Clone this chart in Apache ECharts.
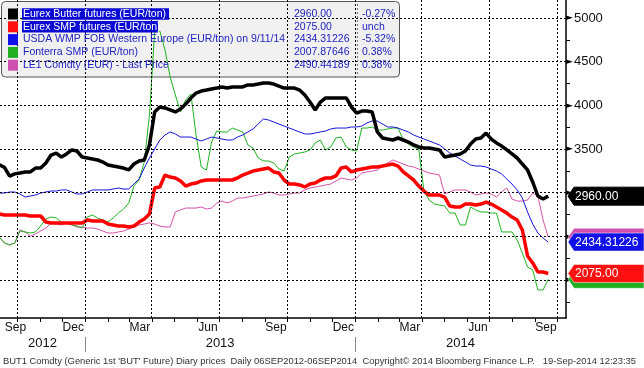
<!DOCTYPE html>
<html><head><meta charset="utf-8">
<script src="https://cdn.jsdelivr.net/npm/echarts@6/dist/echarts.min.js"></script>
<style>html,body{margin:0;padding:0;background:#fff}#c{width:644px;height:368px}</style>
</head><body><div id="c"></div>
<script>
const dates = ['2012-09-07','2012-09-14','2012-09-21','2012-09-28','2012-10-05','2012-10-12','2012-10-19','2012-10-26','2012-11-02','2012-11-09','2012-11-16','2012-11-23','2012-11-30','2012-12-07','2012-12-14','2012-12-21','2012-12-28',
'2013-01-04','2013-01-11','2013-01-18','2013-01-25','2013-02-01','2013-02-08','2013-02-15','2013-02-22','2013-03-01','2013-03-08','2013-03-15','2013-03-22','2013-03-29','2013-04-05','2013-04-12','2013-04-19','2013-04-26','2013-05-03','2013-05-10','2013-05-17','2013-05-24','2013-05-31','2013-06-07','2013-06-14','2013-06-21','2013-06-28','2013-07-05','2013-07-12','2013-07-19','2013-07-26','2013-08-02','2013-08-09','2013-08-16','2013-08-23','2013-08-30','2013-09-06','2013-09-13','2013-09-20','2013-09-27','2013-10-04','2013-10-11','2013-10-18','2013-10-25','2013-11-01','2013-11-08','2013-11-15','2013-11-22','2013-11-29','2013-12-06','2013-12-13','2013-12-20','2013-12-27',
'2014-01-03','2014-01-10','2014-01-17','2014-01-24','2014-01-31','2014-02-07','2014-02-14','2014-02-21','2014-02-28','2014-03-07','2014-03-14','2014-03-21','2014-03-28','2014-04-04','2014-04-11','2014-04-18','2014-04-25','2014-05-02','2014-05-09','2014-05-16','2014-05-23','2014-05-30','2014-06-06','2014-06-13','2014-06-20','2014-06-27','2014-07-04','2014-07-11','2014-07-18','2014-07-25','2014-08-01','2014-08-08','2014-08-15','2014-08-22','2014-08-29','2014-09-05','2014-09-12','2014-09-19'];

const butter = [3320,3290,3190,3215,3225,3237,3237,3282,3282,3340,3431,3454,3408,3443,3489,3477,3408,3397,3385,3374,3351,3317,3305,3294,3282,3260,3328,3363,3374,3546,
3924,3981,3970,3947,3924,3958,4015,4084,4141,4164,4175,4187,4198,4210,4198,4210,4210,4210,4233,4233,4244,4256,4256,4244,4221,4198,4198,4198,4175,4118,
4038,3947,4038,4084,4084,4084,4084,4084,3981,3912,3935,3935,3924,3695,3626,3614,3603,3626,3603,3580,3546,3523,3511,3511,3500,3489,3408,3420,3431,3443,
3477,3557,3614,3626,3683,3614,3569,3534,3489,3443,3397,3328,3260,3122,2962,2928,2960];

const smp = [2756,2744,2744,2744,2744,2744,2733,2733,2733,2664,2653,2653,2653,2653,2653,2653,2653,2687,2676,2676,2676,2641,2630,2618,2618,2607,2618,2664,2698,2756,
3053,3065,3202,3179,3168,3134,3076,3099,3110,3134,3145,3145,3145,3145,3145,3145,3168,3202,3225,3248,3259,3271,3282,3237,3225,3145,3099,3099,3088,3065,
3099,3110,3145,3168,3168,3191,3282,3294,3237,3259,3271,3282,3294,3294,3305,3317,3328,3305,3237,3191,3145,3076,3019,2973,2973,2973,2950,2847,2836,2836,
2870,2870,2859,2870,2893,2870,2836,2802,2767,2721,2687,2573,2275,2195,2092,2092,2075];

const usda = [2996,2996,3008,3008,2985,2950,2962,2973,2996,3008,3019,3019,3031,3031,3008,2985,2985,3008,3031,3031,3031,3031,3042,3053,3042,3042,3099,3156,3282,3397,
3500,3603,3660,3695,3672,3637,3637,3637,3614,3592,3614,3637,3626,3614,3603,3603,3637,3660,3695,3729,3786,3843,3832,3809,3786,3763,3740,3717,3695,3672,
3672,3683,3695,3706,3729,3740,3740,3740,3752,3752,3763,3798,3821,3821,3786,3752,3752,3740,3717,3695,3660,3637,3614,3592,3569,3546,3500,3454,3420,3386,
3351,3317,3305,3305,3294,3271,3248,3214,3156,3099,3031,2939,2779,2641,2538,2481,2434.31226];

const fonterra = [2492,2424,2401,2424,2561,2550,2538,2550,2618,2698,2721,2710,2664,2653,2630,2618,2595,2721,2744,2710,2687,2664,2710,2767,2813,2882,3076,3145,3351,3889,
4840,4851,4634,4324,4118,3924,4061,4130,3660,3294,3259,3580,3706,3695,3695,3740,3717,3695,3546,3511,3397,3363,3363,3340,3271,3248,3408,3443,3454,3466,
3489,3569,3603,3489,3523,3626,3637,3523,3489,3477,3740,3740,3752,3717,3717,3729,3740,3740,3603,3557,3523,3500,3019,2916,2870,2859,2847,2767,2767,2630,
2630,2836,2802,2779,2779,2767,2767,2550,2550,2550,2458,2309,2149,2115,1886,1886,2007.87646];

const le1 = [2492,2424,2401,2424,2573,2550,2504,2527,2561,2595,2653,2641,2630,2653,2630,2607,2607,2595,2595,2584,2561,2538,2538,2550,2561,2584,2607,2630,2641,2653,
2641,2618,2607,2607,2779,2802,2824,2824,2824,2836,2813,2824,2882,2904,2882,2904,2939,2939,2950,2962,2973,2985,3008,2996,2973,2973,2985,2996,2996,3031,
3053,3065,3076,3088,3099,3134,3168,3156,3145,3168,3225,3237,3248,3259,3305,3340,3374,3351,3328,3305,3294,3271,3248,3225,3214,3202,2985,3008,3031,3031,
3031,3008,2973,2985,2996,2985,2950,3008,3053,2927,2904,2904,2916,2996,2962,2687,2490.44189];

const seriesNames = ['Eurex Butter futures (EUR/ton)','Eurex SMP futures (EUR/ton)','USDA WMP FOB Western Europe (EUR/ton) on 9/11/14','Fonterra SMP (EUR/ton)','LE1 Comdty (EUR) - Last Price'];
const lastValues = ['2960.00','2075.00','2434.31226','2007.87646','2490.44189'];
const changes = ['-0.27%','unch','-5.32%','0.38%','0.38%'];
const tagValues = [2960, 2075, 2434.31226, 2007.87646, 2490.44189];
const tagLabels = ['2960.00','2075.00','2434.31226','',''];

const yTicks = [2000,2500,3000,3500,4000,4500,5000];
const yMinorTicks = [1750,2000,2250,2500,2750,3000,3250,3500,3750,4000,4250,4500,4750,5000];
const monthStarts = ['2012-10-01','2012-11-01','2012-12-01','2013-01-01','2013-02-01','2013-03-01','2013-04-01','2013-05-01','2013-06-01','2013-07-01','2013-08-01','2013-09-01','2013-10-01','2013-11-01','2013-12-01','2014-01-01','2014-02-01','2014-03-01','2014-04-01','2014-05-01','2014-06-01','2014-07-01','2014-08-01','2014-09-01','2014-10-01'];
const quarterStarts = ['2012-10-01','2013-01-01','2013-04-01','2013-07-01','2013-10-01','2014-01-01','2014-04-01','2014-07-01','2014-10-01'];
const monthLabelDates = ['2012-09-16','2012-12-16','2013-03-16','2013-06-16','2013-09-16','2013-12-16','2014-03-16','2014-06-16','2014-09-16'];
const monthLabelTexts = ['Sep','Dec','Mar','Jun','Sep','Dec','Mar','Jun','Sep'];
const yearSpans = [['2012-09-08','2013-01-01'],['2013-01-01','2014-01-01'],['2014-01-01','2014-10-13']];
const yearTexts = ['2012','2013','2014'];
const yearBreaks = ['2013-01-01','2014-01-01'];
const X_MIN = '2012-09-08', X_MAX = '2014-10-13';
const Y_MIN = 1565, Y_MAX = 5206;
const footer = "BUT1 Comdty (Generic 1st 'BUT' Future) Diary prices  Daily 06SEP2012-06SEP2014  Copyright\u00a9 2014 Bloomberg Finance L.P.   19-Sep-2014 12:23:35";

const toTs = s => { const p = s.split('-').map(Number); return new Date(p[0], p[1]-1, p[2]).getTime(); };
const FONT = '"Liberation Sans", Arial, sans-serif';
const lineColors = ['#000000','#ff0000','#1414d8','#1fb21f','#d452a8'];
const tagFill = ['#000000','#ff1010','#1010e8','#22b022','#d050b0'];

const chart = echarts.init(document.getElementById('c'));
const mk = arr => dates.map((d,i) => [d, arr[i]]);

const legendEls = [];
legendEls.push({type:'rect', z:0, shape:{x:1.5,y:1.5,width:398,height:75.5,r:4}, style:{fill:'#f0f0f0', stroke:'#555', lineWidth:1}});
const rowY = [14, 26.8, 39.6, 52.4, 65.2];
const hlW = [147, 136];
const LFONT = '10.5px ' + FONT;
seriesNames.forEach((n,i) => {
  legendEls.push({type:'rect', z:9, shape:{x:8,y:rowY[i]-5.5,width:10,height:11}, style:{fill:tagFill[i]}});
  if (i < 2) legendEls.push({type:'rect', z:9, shape:{x:22,y:rowY[i]-5.8,width:hlW[i],height:11.6}, style:{fill:'#0a0ad2'}});
  legendEls.push({type:'text', z:10, x:23, y:rowY[i], style:{text:n, fill: i<2 ? '#ffffff' : '#2222c0', font:LFONT, verticalAlign:'middle', textVerticalAlign:'middle'}});
  legendEls.push({type:'text', z:10, x:294, y:rowY[i], style:{text:lastValues[i], fill:'#2222c0', font:LFONT, verticalAlign:'middle', textVerticalAlign:'middle'}});
  legendEls.push({type:'text', z:10, x:362, y:rowY[i], style:{text:changes[i], fill:'#2222c0', font:LFONT, verticalAlign:'middle', textVerticalAlign:'middle'}});
});
legendEls.push({type:'line', z:9, shape:{x1:357.5,y1:4,x2:357.5,y2:75}, style:{stroke:'#777', lineWidth:1, lineDash:[2,2]}});
legendEls.push({type:'text', z:10, x:3, y:361, style:{text:footer, fill:'#333', font:'9.4px '+FONT, verticalAlign:'middle', textVerticalAlign:'middle'}});

const dotted = {color:'#000', type:[2,2], width:1};

const option = {
  animation:false,
  backgroundColor:'#ffffff',
  grid:{left:0, right:78, top:0, bottom:50, containLabel:false},
  xAxis:{type:'time', min:X_MIN, max:X_MAX, axisLine:{show:true, lineStyle:{color:'#000', width:1.5}}, axisTick:{show:false}, axisLabel:{show:false}, splitLine:{show:false}},
  yAxis:{type:'value', position:'right', min:Y_MIN, max:Y_MAX, scale:true,
    axisLine:{show:true, lineStyle:{color:'#000', width:1.5}},
    axisTick:{show:true, customValues:yMinorTicks, length:4, lineStyle:{color:'#000'}},
    axisLabel:{show:true, customValues:yTicks, margin:0,
      formatter: v => '{a|\u25BA}{b|' + v + '}',
      rich:{a:{fontSize:9, fontFamily:'"DejaVu Sans"', color:'#000', padding:[0,1,0,0]}, b:{fontSize:13, fontFamily:FONT, color:'#111'}}},
    splitLine:{show:false}},
  graphic:{elements:legendEls},
  series:[
    {type:'line', name:'grid', z:1, data:[], silent:true,
      markLine:{silent:true, symbol:['none','none'], label:{show:false}, lineStyle:dotted, animation:false,
        data: quarterStarts.map(d => ({xAxis:d})).concat(yTicks.map(v => ({yAxis:v})))}},
    {type:'line', name:seriesNames[4], z:3, data:mk(le1), showSymbol:false, lineStyle:{color:lineColors[4], width:1}},
    {type:'line', name:seriesNames[3], z:3, data:mk(fonterra), showSymbol:false, lineStyle:{color:lineColors[3], width:1}},
    {type:'line', name:seriesNames[2], z:3, data:mk(usda), showSymbol:false, lineStyle:{color:lineColors[2], width:1}},
    {type:'line', name:seriesNames[1], z:4, data:mk(smp), showSymbol:false, lineStyle:{color:lineColors[1], width:3.5}},
    {type:'line', name:seriesNames[0], z:5, data:mk(butter), showSymbol:false, lineStyle:{color:lineColors[0], width:3.5}},
    {type:'custom', name:'monthTicks', z:6, silent:true, clip:false, data: monthStarts.map(d => [d, 2000]),
      renderItem:(params, api) => {
        const x = Math.round(api.coord([api.value(0), 2000])[0]) + 0.5;
        const cs = params.coordSys; const yb = cs.y + cs.height;
        return {type:'line', shape:{x1:x, y1:yb, x2:x, y2:yb+4}, style:{stroke:'#000', lineWidth:1}};
      }},
    {type:'custom', name:'monthLabels', z:6, silent:true, clip:false, data: monthLabelDates.map(d => [d, 2000]),
      renderItem:(params, api) => {
        let x = api.coord([api.value(0), 2000])[0];
        x = Math.max(x, 15.5);
        const cs = params.coordSys; const yb = cs.y + cs.height;
        return {type:'text', x:x, y:yb+10, style:{text:monthLabelTexts[params.dataIndex], fill:'#111', font:'12px '+FONT, align:'center', textAlign:'center', verticalAlign:'middle', textVerticalAlign:'middle'}};
      }},
    {type:'custom', name:'yearLabels', z:6, silent:true, clip:false, data: yearSpans.map(s => [s[0], 2000]),
      renderItem:(params, api) => {
        const s = yearSpans[params.dataIndex];
        const x0 = api.coord([toTs(s[0]), 2000])[0], x1 = api.coord([toTs(s[1]), 2000])[0];
        const cs = params.coordSys; const yb = cs.y + cs.height;
        return {type:'text', x:(x0+x1)/2, y:yb+25, style:{text:yearTexts[params.dataIndex], fill:'#111', font:'13px '+FONT, align:'center', textAlign:'center', verticalAlign:'middle', textVerticalAlign:'middle'}};
      }},
    {type:'custom', name:'yearBreaks', z:6, silent:true, clip:false, data: yearBreaks.map(d => [d, 2000]),
      renderItem:(params, api) => {
        const x = Math.round(api.coord([api.value(0), 2000])[0]) + 0.5;
        const cs = params.coordSys; const yb = cs.y + cs.height;
        return {type:'line', shape:{x1:x, y1:yb+19, x2:x, y2:yb+34}, style:{stroke:'#888', lineWidth:1}};
      }},
    {type:'custom', name:'tags', z:7, silent:true, clip:false,
      data: [4,2,3,1,0].map(i => [X_MAX, tagValues[i], i]),
      renderItem:(params, api) => {
        const i = api.value(2);
        const y = api.coord([api.value(0), api.value(1)])[1];
        const cs = params.coordSys; const x0 = cs.x + cs.width;
        const h = 9;
        const children = [{type:'polygon', shape:{points:[[x0+2,y],[x0+8,y-h],[644,y-h],[644,y+h],[x0+8,y+h]]}, style:{fill:tagFill[i], stroke: i===0 ? '#000' : 'rgba(255,255,255,0.5)', lineWidth:1}}];
        if (tagLabels[i]) children.push({type:'text', x:x0+9, y:y+0.5, style:{text:tagLabels[i], fill:'#fff', font:'12px '+FONT, verticalAlign:'middle', textVerticalAlign:'middle'}});
        return {type:'group', children};
      }}
  ]
};
chart.setOption(option);
</script></body></html>
